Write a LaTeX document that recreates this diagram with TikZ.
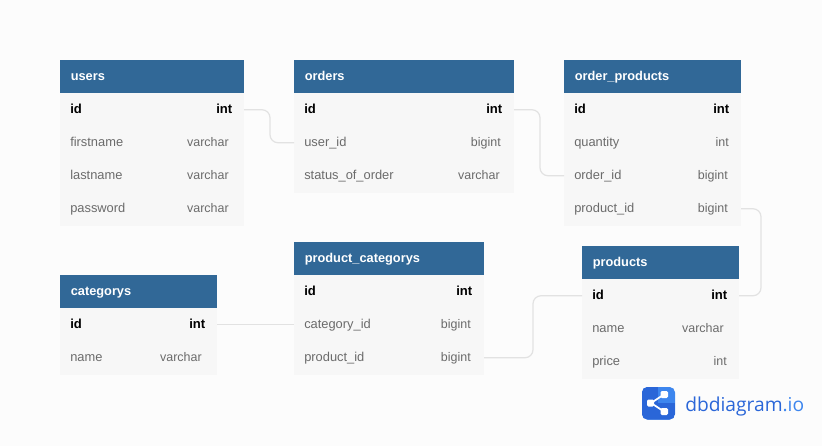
\documentclass[tikz,border=0pt]{standalone}
\usepackage{fontspec}
\setmainfont{Liberation Sans}
\newfontfamily\logofont{Open Sans}
\usetikzlibrary{calc}
\definecolor{hdr}{HTML}{316897}
\definecolor{rowbg}{HTML}{F7F7F7}
\definecolor{pagebg}{HTML}{FCFCFC}
\definecolor{txt}{HTML}{6B6B6B}
\definecolor{conn}{HTML}{E2E2E2}
\definecolor{logoA}{HTML}{2A66D8}
\definecolor{logoB}{HTML}{3D86EE}
\tikzset{x=0.75pt,y=-0.75pt,
 hdrbox/.style={fill=hdr,inner sep=0,outer sep=0,minimum height=24.75pt,anchor=north west},
 rowbox/.style={fill=rowbg,inner sep=0,outer sep=0,minimum height=25.125pt,anchor=north west},
 hdrtext/.style={text=white,font=\fontsize{9.6pt}{11pt}\bfseries,anchor=base west,inner sep=0},
 keytext/.style={text=black,font=\fontsize{9.8pt}{11pt}\bfseries,anchor=base west,inner sep=0},
 keytype/.style={text=black,font=\fontsize{9.8pt}{11pt}\bfseries,anchor=base east,inner sep=0},
 fieldtext/.style={text=txt,font=\fontsize{9.65pt}{11pt}\selectfont,anchor=base west,inner sep=0},
 fieldtype/.style={text=txt,font=\fontsize{9.35pt}{11pt}\selectfont,anchor=base east,inner sep=0},
 link/.style={draw=conn,line width=0.9pt,rounded corners=6pt},
}
% \tblhead{name}{x}{y}{width px}{title}
\newcommand{\tblhead}[5]{%
 \node[hdrbox,minimum width=#4*0.75pt] (#1) at (#2,#3) {};
 \node[hdrtext] (#1-title) at (#2+10.5,#3+20) {#5};}
% \tblrow{table}{rowname}{x}{y}{width}{style prefix}{label}{type}{type right x}
\newcommand{\tblrow}[9]{%
 \node[rowbox,minimum width=#5*0.75pt] (#1-#2) at (#3,#4) {};
 \node[#6text] (#1-#2-n) at (#3+10,#4+20) {#7};
 \node[#6type] (#1-#2-t) at (#9,#4+20) {#8};}
\begin{document}
\begin{tikzpicture}
\useasboundingbox (0,0) rectangle (822,446);
\fill[pagebg] (0,0) rectangle (822,446);

% users
\tblhead{users}{60}{60}{184}{users}
\tblrow{users}{id}{60}{93}{184}{key}{id}{int}{232.5}
\tblrow{users}{firstname}{60}{126}{184}{field}{firstname}{varchar}{229}
\tblrow{users}{lastname}{60}{159}{184}{field}{lastname}{varchar}{229}
\tblrow{users}{password}{60}{192}{184}{field}{password}{varchar}{229}

% orders
\tblhead{orders}{294}{60}{220}{orders}
\tblrow{orders}{id}{294}{93}{220}{key}{id}{int}{502.5}
\tblrow{orders}{userid}{294}{126}{220}{field}{user\_id}{bigint}{501}
\tblrow{orders}{status}{294}{159}{220}{field}{status\_of\_order}{varchar}{500}

% order_products
\tblhead{op}{564}{60}{177}{order\_products}
\tblrow{op}{id}{564}{93}{177}{key}{id}{int}{729.5}
\tblrow{op}{quantity}{564}{126}{177}{field}{quantity}{int}{729}
\tblrow{op}{orderid}{564}{159}{177}{field}{order\_id}{bigint}{728}
\tblrow{op}{productid}{564}{192}{177}{field}{product\_id}{bigint}{728}

% products
\tblhead{products}{582}{246}{157}{products}
\tblrow{products}{id}{582}{279}{157}{key}{id}{int}{727.5}
\tblrow{products}{name}{582}{312}{157}{field}{name}{varchar}{724}
\tblrow{products}{price}{582}{345}{157}{field}{price}{int}{727}

% product_categorys
\tblhead{pc}{294}{242}{190}{product\_categorys}
\tblrow{pc}{id}{294}{275}{190}{key}{id}{int}{472.5}
\tblrow{pc}{categoryid}{294}{308}{190}{field}{category\_id}{bigint}{471}
\tblrow{pc}{productid}{294}{341}{190}{field}{product\_id}{bigint}{471}

% categorys
\tblhead{cat}{60}{275}{157}{categorys}
\tblrow{cat}{id}{60}{308}{157}{key}{id}{int}{205.5}
\tblrow{cat}{name}{60}{341}{157}{field}{name}{varchar}{202}

% connectors
\draw[link] (users-id.east) -- ++(26,0) |- (orders-userid.west);
\draw[link] (orders-id.east) -- ++(26,0) |- (op-orderid.west);
\draw[link] (op-productid.east) -- ++(20,0) |- (products-id.east);
\draw[link] (cat-id.east) -- (pc-categoryid.west);
\draw[link] (pc-productid.east) -- ++(49,0) |- (products-id.west);

% logo
\fill[logoB,rounded corners=4pt] (642,387) rectangle (675,419.5);
\begin{scope}
\clip[rounded corners=4pt] (642,387) rectangle (675,419.5);
\fill[logoA] (642,403) -- (658,403) -- (658,387) -- (642,387) -- cycle;
\fill[logoA] (642,403) rectangle (675,420);
\end{scope}
\draw[white,line width=1.3pt] (651,403) -- (664,394.5) (651,403) -- (664,411.5);
\fill[white,rounded corners=1pt] (647,399.5) rectangle (654,406.5);
\fill[white,rounded corners=1pt] (660.5,391) rectangle (668,398);
\fill[white,rounded corners=1pt] (660.5,408) rectangle (668,415);
\node[anchor=base west,inner sep=0,text=logoA,font=\logofont\fontsize{14.4pt}{17pt}\selectfont] (logo) at (685,411) {dbdiagram\textcolor{logoB}{.io}};
\end{tikzpicture}
\end{document}
